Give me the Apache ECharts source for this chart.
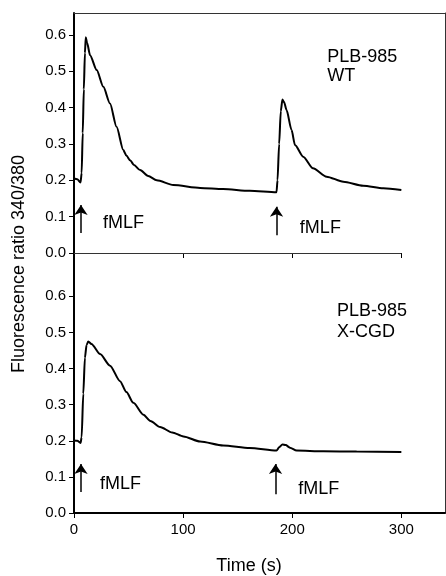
<!DOCTYPE html>
<html>
<head>
<meta charset="UTF-8">
<script src="https://cdn.jsdelivr.net/npm/echarts@6.0.0/dist/echarts.min.js"></script>
<style>
  html, body { margin: 0; padding: 0; background: #fff; }
  #chart { width: 446px; height: 576px; }
</style>
</head>
<body>
<div id="chart"></div>
<script>
// top panel: PLB-985 WT
const wtTime  = [0, 3, 6, 7, 8, 9, 10, 10.8, 12, 14.7, 20.8, 26.9, 33, 39, 45.2, 48, 51.4, 55, 60.6, 68, 75.8, 91, 115.6, 136.7, 161, 185.6, 186.5, 188, 189.5, 191, 192.5, 194.8, 199.4, 202.5, 210, 219, 231.5, 246.8, 265, 283.5, 300];
const wtRatio = [0.205, 0.203, 0.194, 0.22, 0.33, 0.45, 0.55, 0.593, 0.578, 0.544, 0.503, 0.457, 0.411, 0.347, 0.283, 0.268, 0.255, 0.242, 0.228, 0.212, 0.200, 0.187, 0.179, 0.176, 0.171, 0.167, 0.2, 0.3, 0.39, 0.422, 0.415, 0.393, 0.338, 0.297, 0.265, 0.233, 0.210, 0.196, 0.185, 0.178, 0.173];

// bottom panel: PLB-985 X-CGD
const cgdTime  = [0, 3, 6, 7, 8.5, 10, 11.5, 13.1, 16, 23.9, 33, 42.2, 48, 54.4, 63.6, 70, 78.9, 90, 100.3, 115.6, 136.7, 161, 185.6, 188, 191, 194, 197.9, 204, 228.4, 259, 300];
const cgdRatio = [0.201, 0.2, 0.194, 0.21, 0.33, 0.43, 0.465, 0.475, 0.468, 0.44, 0.408, 0.365, 0.335, 0.305, 0.272, 0.255, 0.238, 0.223, 0.212, 0.198, 0.187, 0.18, 0.173, 0.182, 0.19, 0.188, 0.181, 0.173, 0.171, 0.17, 0.169];

const xTicks = [0, 100, 200, 300];
const yTicks = [0, 0.1, 0.2, 0.3, 0.4, 0.5, 0.6];

// fMLF arrows: [time, from, to]
const wtArrows  = [[6.4, 0.055, 0.132], [185.6, 0.049, 0.127]];
const cgdArrows = [[6.4, 0.058, 0.136], [184.7, 0.052, 0.136]];

// text labels: [time, ratio, text]
const wtLabels  = [[26.6, 0.082, 'fMLF'], [207, 0.069, 'fMLF'], [232, 0.538, 'PLB-985'], [232, 0.486, 'WT']];
const cgdLabels = [[23.9, 0.08, 'fMLF'], [205.5, 0.066, 'fMLF'], [241, 0.558, 'PLB-985'], [241, 0.5, 'X-CGD']];

const font = 'Liberation Sans, Arial, sans-serif';
const ink = '#000';

function zip(a, b) { return a.map((v, i) => [v, b[i]]); }

function arrowLines(list) {
  return list.map(a => [{ coord: [a[0], a[1]] }, { coord: [a[0], a[2]] }]);
}

function labelSeries(list, xi, yi) {
  return {
    type: 'scatter', xAxisIndex: xi, yAxisIndex: yi, silent: true,
    symbolSize: 0, itemStyle: { color: ink, opacity: 1 },
    data: list.map(l => ({ value: [l[0], l[1]], name: l[2] })),
    label: { show: true, position: 'right', distance: 0, formatter: '{b}',
             fontFamily: font, fontSize: 18, color: ink, opacity: 1 },
    emphasis: { disabled: true }
  };
}

function leftAxis(grid, max) {
  return {
    type: 'value', gridIndex: grid, min: 0, max: max, interval: 0.1,
    axisLine: { show: true, lineStyle: { color: ink, width: 2 } },
    axisTick: { show: true, length: 5, customValues: yTicks, lineStyle: { color: ink, width: 1 } },
    axisLabel: { customValues: yTicks, margin: 8, fontFamily: font, fontSize: 15, color: ink,
                 formatter: v => v.toFixed(1) },
    splitLine: { show: false }
  };
}

function borderAxis(grid, pos) {
  return {
    type: 'value', gridIndex: grid, position: pos, min: 0, max: 1,
    axisLine: { show: true, onZero: false, lineStyle: { color: '#333', width: 1 } },
    axisTick: { show: false }, axisLabel: { show: false }, splitLine: { show: false }
  };
}

function traceSeries(xi, yi, data, arrows, extra) {
  return {
    type: 'line', xAxisIndex: xi, yAxisIndex: yi, data: data,
    showSymbol: false, silent: true, smooth: 0.25, smoothMonotone: 'x',
    lineStyle: { color: ink, width: 2 },
    markLine: {
      silent: true, animation: false, symbol: ['none', 'arrow'], symbolSize: 10,
      label: { show: false },
      lineStyle: { color: ink, width: 1.5, type: 'solid' },
      data: arrowLines(arrows).concat(extra)
    }
  };
}

const chart = echarts.init(document.getElementById('chart'), null, { renderer: 'canvas' });
chart.setOption({
  animation: false,
  backgroundColor: '#fff',
  grid: [
    { left: 74, top: 13, width: 371, height: 240 },
    { left: 74, top: 253, width: 371, height: 261 }
  ],
  xAxis: [
    {
      type: 'value', gridIndex: 0, min: 0, max: 340, interval: 100,
      axisLine: { show: false },
      axisTick: { show: true, length: 5, customValues: xTicks, lineStyle: { color: ink } },
      axisLabel: { show: false }, splitLine: { show: false }
    },
    borderAxis(0, 'top'),
    {
      type: 'value', gridIndex: 1, min: 0, max: 340, interval: 100,
      axisLine: { show: true, onZero: false, lineStyle: { color: ink, width: 2 } },
      axisTick: { show: true, length: 5, customValues: xTicks, lineStyle: { color: ink } },
      axisLabel: { customValues: xTicks, margin: 9, fontFamily: font, fontSize: 15, color: ink },
      splitLine: { show: false },
      name: 'Time (s)', nameLocation: 'middle', nameGap: 44,
      nameTextStyle: { fontFamily: font, fontSize: 18, color: ink, padding: [0, 21, 0, 0] }
    }
  ],
  yAxis: [
    leftAxis(0, 0.66),
    borderAxis(0, 'right'),
    leftAxis(1, 0.72),
    borderAxis(1, 'right')
  ],
  graphic: [{
    type: 'text', x: 19, y: 264, rotation: Math.PI / 2,
    style: { text: 'Fluorescence ratio 340/380', align: 'center', verticalAlign: 'middle',
             font: '18px ' + font, fill: ink }
  }],
  series: [
    traceSeries(0, 0, zip(wtTime, wtRatio), wtArrows, [[
      { coord: [0, 0], symbol: 'none', lineStyle: { width: 1, color: '#333' } },
      { coord: [300, 0], symbol: 'none' }
    ]]),
    traceSeries(2, 2, zip(cgdTime, cgdRatio), cgdArrows, []),
    labelSeries(wtLabels, 0, 0),
    labelSeries(cgdLabels, 2, 2)
  ]
});
</script>
</body>
</html>
